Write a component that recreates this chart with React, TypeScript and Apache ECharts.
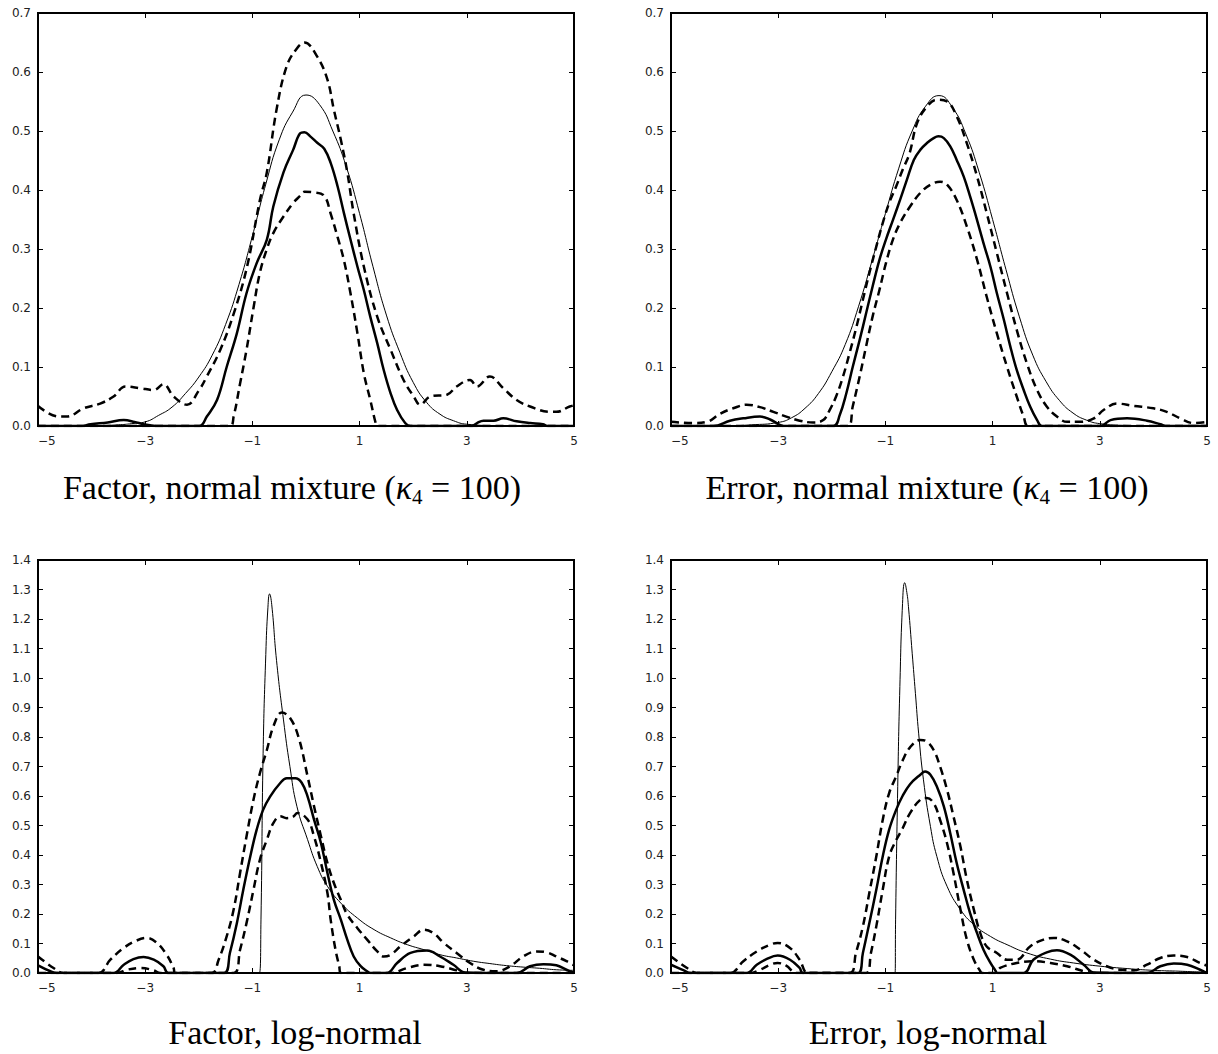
import React, { useEffect, useRef } from 'react';
import * as echarts from 'echarts';

// ---------- tick values ----------
const xTickValues = [-5, -3, -1, 1, 3, 5];
const xInnerTicks = [-3, -1, 1, 3];
const yMaxTop = 0.7;
const yMaxBottom = 1.4;

// ---------- titles ----------
const titleTL = '{r|Factor, normal mixture (}{k|κ}{s|4}{r| = 100)}';
const titleTR = '{r|Error, normal mixture (}{k|κ}{s|4}{r| = 100)}';
const titleBL = '{r|Factor, log-normal}';
const titleBR = '{r|Error, log-normal}';

// ---------- Top-left: Factor, normal mixture ----------
const tlTrue = [[-5,0],[-4,0.0003],[-3.5,0.002],[-3.25,0.004],[-3,0.007],[-2.75,0.018],[-2.5,0.032],[-2.25,0.055],[-2,0.083],[-1.75,0.12],[-1.5,0.172],[-1.25,0.24],[-1,0.322],[-0.75,0.41],[-0.5,0.485],[-0.25,0.532],[0,0.561],[0.25,0.545],[0.5,0.5],[0.75,0.44],[1,0.36],[1.25,0.27],[1.5,0.188],[1.75,0.125],[2,0.074],[2.25,0.04],[2.5,0.02],[2.75,0.009],[3,0.003],[3.5,0.0008],[5,0]];
const tlEst = [[-5,0],[-4.2,0],[-4.02,0.003],[-3.7,0.006],[-3.4,0.01],[-3.2,0.007],[-3.03,0.003],[-2.8,0],[-1.99,0],[-1.85,0.016],[-1.66,0.044],[-1.48,0.1],[-1.29,0.157],[-1.11,0.225],[-0.92,0.276],[-0.73,0.316],[-0.61,0.372],[-0.42,0.43],[-0.24,0.468],[-0.11,0.496],[-0.03,0.498],[0.09,0.49],[0.21,0.48],[0.34,0.47],[0.46,0.446],[0.59,0.406],[0.71,0.36],[0.83,0.316],[0.96,0.27],[1.08,0.23],[1.2,0.185],[1.33,0.14],[1.45,0.095],[1.58,0.055],[1.7,0.027],[1.85,0.005],[1.95,0],[3.1,0],[3.19,0.005],[3.31,0.009],[3.5,0.009],[3.68,0.013],[3.93,0.008],[4.18,0.005],[4.42,0.003],[4.5,0],[5,0]];
const tlUpper = [[-5,0.034],[-4.61,0.016],[-4.46,0.016],[-4.15,0.03],[-3.84,0.038],[-3.59,0.05],[-3.37,0.067],[-3.09,0.064],[-2.84,0.061],[-2.66,0.071],[-2.47,0.05],[-2.22,0.036],[-2.0,0.06],[-1.85,0.084],[-1.6,0.129],[-1.35,0.19],[-1.1,0.27],[-0.86,0.383],[-0.73,0.43],[-0.55,0.536],[-0.36,0.61],[-0.17,0.64],[-0.03,0.65],[0.21,0.626],[0.4,0.587],[0.52,0.536],[0.65,0.485],[0.77,0.43],[0.89,0.36],[1.08,0.27],[1.33,0.185],[1.58,0.129],[1.82,0.078],[2.01,0.05],[2.13,0.036],[2.32,0.05],[2.63,0.053],[2.81,0.067],[3.06,0.078],[3.19,0.067],[3.43,0.084],[3.68,0.064],[3.93,0.044],[4.18,0.033],[4.55,0.024],[4.67,0.024],[4.92,0.033],[5,0.035]];
const tlLower = [[-5,0],[-1.42,0],[-1.35,0.016],[-1.23,0.072],[-1.11,0.129],[-0.98,0.2],[-0.86,0.26],[-0.73,0.3],[-0.61,0.327],[-0.42,0.355],[-0.24,0.378],[-0.11,0.39],[-0.03,0.397],[0.15,0.396],[0.34,0.39],[0.46,0.36],[0.59,0.32],[0.71,0.28],[0.83,0.225],[0.96,0.157],[1.08,0.089],[1.2,0.044],[1.3,0.005],[1.33,0],[5,0]];

// ---------- Top-right: Error, normal mixture ----------
const trTrue = [[-5,0],[-4,0.0003],[-3.5,0.002],[-3,0.006],[-2.75,0.014],[-2.5,0.03],[-2.25,0.055],[-2,0.092],[-1.75,0.138],[-1.5,0.203],[-1.25,0.28],[-1,0.36],[-0.75,0.437],[-0.5,0.5],[-0.25,0.542],[0,0.56],[0.25,0.54],[0.5,0.495],[0.75,0.43],[1,0.35],[1.25,0.265],[1.5,0.185],[1.75,0.12],[2,0.075],[2.25,0.043],[2.5,0.022],[2.75,0.01],[3,0.004],[3.5,0.001],[4,0.0003],[5,0]];
const trEst = [[-5,0],[-4.21,0],[-3.9,0.009],[-3.65,0.013],[-3.34,0.016],[-3.15,0.011],[-2.97,0.002],[-2.9,0],[-1.97,0],[-1.85,0.019],[-1.73,0.055],[-1.61,0.1],[-1.48,0.146],[-1.36,0.191],[-1.24,0.236],[-1.11,0.282],[-0.99,0.316],[-0.86,0.349],[-0.72,0.385],[-0.6,0.417],[-0.47,0.451],[-0.35,0.468],[-0.22,0.48],[-0.1,0.488],[-0.01,0.491],[0.09,0.488],[0.21,0.474],[0.33,0.451],[0.46,0.423],[0.58,0.389],[0.71,0.349],[0.83,0.31],[0.96,0.27],[1.08,0.225],[1.21,0.18],[1.33,0.135],[1.45,0.095],[1.58,0.061],[1.7,0.033],[1.83,0.01],[1.92,0],[3.01,0],[3.2,0.01],[3.51,0.013],[3.88,0.009],[4.13,0.003],[4.25,0],[5,0]];
const trUpper = [[-5,0.007],[-4.58,0.005],[-4.33,0.007],[-4.08,0.021],[-3.84,0.03],[-3.59,0.036],[-3.34,0.032],[-3.09,0.024],[-2.85,0.016],[-2.6,0.009],[-2.35,0.006],[-2.16,0.01],[-2.04,0.027],[-1.92,0.05],[-1.79,0.084],[-1.67,0.123],[-1.54,0.168],[-1.42,0.214],[-1.3,0.259],[-1.17,0.304],[-1.05,0.344],[-0.93,0.378],[-0.8,0.406],[-0.68,0.434],[-0.55,0.462],[-0.41,0.513],[-0.22,0.542],[-0.04,0.553],[0.15,0.55],[0.33,0.525],[0.52,0.479],[0.71,0.423],[0.89,0.361],[1.08,0.293],[1.27,0.225],[1.45,0.163],[1.64,0.106],[1.83,0.061],[2.01,0.033],[2.2,0.016],[2.39,0.007],[2.64,0.007],[2.89,0.013],[3.07,0.027],[3.32,0.038],[3.63,0.034],[4.0,0.03],[4.25,0.024],[4.5,0.013],[4.75,0.005],[5,0.007]];
const trLower = [[-5,0],[-1.7,0],[-1.61,0.033],[-1.48,0.084],[-1.36,0.135],[-1.24,0.185],[-1.11,0.231],[-0.99,0.276],[-0.86,0.316],[-0.72,0.345],[-0.54,0.372],[-0.35,0.395],[-0.16,0.409],[0.02,0.414],[0.15,0.409],[0.33,0.383],[0.52,0.338],[0.71,0.282],[0.89,0.219],[1.08,0.157],[1.27,0.1],[1.45,0.05],[1.58,0.016],[1.67,0],[5,0]];

// ---------- Bottom-left: Factor, log-normal ----------
const blTrue = [[-5,0],[-0.87,0],[-0.84,0.18],[-0.8,0.745],[-0.75,1.08],[-0.71,1.24],[-0.68,1.285],[-0.64,1.25],[-0.55,1.06],[-0.42,0.858],[-0.3,0.7],[-0.17,0.565],[0.03,0.452],[0.21,0.361],[0.4,0.294],[0.65,0.237],[0.96,0.186],[1.27,0.147],[1.58,0.119],[1.89,0.096],[2.2,0.079],[2.5,0.062],[2.81,0.051],[3.12,0.04],[3.43,0.032],[3.74,0.025],[4.05,0.02],[4.36,0.016],[4.67,0.011],[5,0.009]];
const blEst = [[-5,0.026],[-4.77,0.006],[-4.65,0],[-3.59,0],[-3.4,0.028],[-3.22,0.047],[-3.03,0.054],[-2.84,0.045],[-2.66,0.023],[-2.57,0],[-1.53,0],[-1.42,0.068],[-1.29,0.169],[-1.17,0.282],[-1.04,0.395],[-0.92,0.486],[-0.8,0.553],[-0.67,0.598],[-0.48,0.644],[-0.36,0.66],[-0.2,0.66],[-0.08,0.645],[0.03,0.598],[0.15,0.52],[0.28,0.44],[0.4,0.339],[0.52,0.248],[0.65,0.181],[0.77,0.113],[0.89,0.056],[1.02,0.023],[1.14,0.006],[1.2,0],[1.51,0],[1.7,0.034],[1.95,0.068],[2.26,0.076],[2.5,0.056],[2.75,0.028],[2.97,0.002],[3.93,0],[4.18,0.023],[4.43,0.03],[4.67,0.026],[4.86,0.011],[5,0]];
const blUpper = [[-5,0.056],[-4.71,0.017],[-4.52,0],[-3.87,0],[-3.65,0.045],[-3.4,0.085],[-3.16,0.11],[-2.97,0.119],[-2.78,0.102],[-2.6,0.062],[-2.47,0.017],[-2.44,0],[-1.76,0],[-1.63,0.045],[-1.48,0.124],[-1.35,0.215],[-1.23,0.339],[-1.11,0.463],[-0.98,0.587],[-0.86,0.677],[-0.73,0.756],[-0.61,0.835],[-0.45,0.883],[-0.3,0.865],[-0.14,0.8],[0.03,0.666],[0.15,0.565],[0.28,0.463],[0.4,0.373],[0.52,0.305],[0.65,0.248],[0.77,0.198],[0.96,0.152],[1.14,0.113],[1.33,0.073],[1.45,0.056],[1.58,0.062],[1.76,0.09],[2.01,0.124],[2.2,0.147],[2.38,0.135],[2.57,0.102],[2.81,0.068],[3.06,0.034],[3.31,0.011],[3.56,0.006],[3.81,0.023],[4.05,0.056],[4.3,0.073],[4.49,0.07],[4.67,0.056],[4.86,0.04],[5,0.026]];
const blLower = [[-5,0],[-3.53,0],[-3.34,0.011],[-3.09,0.017],[-2.84,0.009],[-2.72,0],[-1.35,0],[-1.23,0.079],[-1.11,0.169],[-0.98,0.282],[-0.86,0.384],[-0.73,0.452],[-0.61,0.508],[-0.48,0.531],[-0.36,0.525],[-0.24,0.53],[-0.16,0.542],[0.03,0.52],[0.15,0.463],[0.28,0.373],[0.4,0.271],[0.46,0.181],[0.55,0.079],[0.62,0.023],[0.65,0],[1.58,0],[1.89,0.017],[2.2,0.028],[2.5,0.023],[2.81,0.009],[3.0,0],[5,0]];

// ---------- Bottom-right: Error, log-normal ----------
const brTrue = [[-5,0],[-0.82,0],[-0.81,0.18],[-0.77,0.632],[-0.73,0.971],[-0.68,1.253],[-0.64,1.323],[-0.6,1.29],[-0.57,1.242],[-0.5,1.084],[-0.44,0.948],[-0.38,0.813],[-0.29,0.655],[-0.16,0.497],[-0.04,0.395],[0.15,0.294],[0.4,0.215],[0.65,0.164],[0.96,0.124],[1.27,0.096],[1.64,0.068],[2.08,0.047],[2.51,0.034],[3.01,0.023],[3.51,0.015],[4.0,0.009],[4.5,0.006],[5,0.002]];
const brEst = [[-5,0.028],[-4.76,0.009],[-4.64,0],[-3.59,0],[-3.4,0.028],[-3.22,0.047],[-3.01,0.059],[-2.78,0.045],[-2.6,0.017],[-2.54,0],[-1.51,0],[-1.42,0.068],[-1.3,0.169],[-1.17,0.282],[-1.05,0.395],[-0.93,0.486],[-0.8,0.553],[-0.68,0.6],[-0.54,0.64],[-0.35,0.672],[-0.26,0.683],[-0.16,0.672],[-0.04,0.632],[0.09,0.565],[0.21,0.474],[0.33,0.373],[0.46,0.282],[0.58,0.203],[0.71,0.135],[0.83,0.079],[0.96,0.034],[1.05,0.009],[1.09,0],[1.58,0],[1.76,0.045],[2.01,0.07],[2.2,0.077],[2.45,0.062],[2.7,0.028],[2.89,0.002],[3.88,0],[4.13,0.023],[4.38,0.032],[4.63,0.028],[4.87,0.011],[5,0]];
const brUpper = [[-5,0.056],[-4.7,0.017],[-4.52,0],[-3.9,0],[-3.65,0.04],[-3.4,0.073],[-3.15,0.096],[-3.01,0.102],[-2.78,0.085],[-2.6,0.045],[-2.44,0],[-1.67,0],[-1.55,0.068],[-1.42,0.158],[-1.3,0.271],[-1.17,0.395],[-1.05,0.519],[-0.93,0.61],[-0.8,0.666],[-0.68,0.72],[-0.54,0.765],[-0.35,0.79],[-0.23,0.785],[-0.1,0.756],[0.02,0.7],[0.15,0.621],[0.27,0.531],[0.4,0.429],[0.52,0.316],[0.65,0.215],[0.77,0.135],[0.89,0.09],[1.08,0.068],[1.27,0.045],[1.45,0.045],[1.7,0.09],[1.95,0.113],[2.14,0.119],[2.39,0.107],[2.64,0.079],[2.89,0.045],[3.13,0.023],[3.38,0.011],[3.63,0.009],[3.88,0.028],[4.13,0.051],[4.38,0.059],[4.63,0.054],[4.87,0.034],[5,0.025]];
const brLower = [[-5,0],[-3.53,0],[-3.34,0.011],[-3.15,0.028],[-3.01,0.034],[-2.85,0.025],[-2.66,0],[-1.36,0],[-1.27,0.068],[-1.17,0.158],[-1.05,0.282],[-0.93,0.395],[-0.8,0.45],[-0.68,0.49],[-0.54,0.542],[-0.35,0.587],[-0.23,0.593],[-0.1,0.576],[0.02,0.519],[0.15,0.44],[0.27,0.339],[0.4,0.215],[0.52,0.113],[0.65,0.045],[0.77,0.006],[0.8,0],[1.05,0],[1.14,0.017],[1.45,0.034],[1.76,0.04],[2.08,0.034],[2.39,0.023],[2.7,0.006],[2.89,0],[5,0]];

const SERIF = 'Liberation Serif';
const SANS = 'DejaVu Sans';

const fmtX = (v: number) => (v < 0 ? '\u2212' + Math.abs(v) : String(v));

function buildOption() {
  const panels = [
    { left: 38, top: 13, yMax: yMaxTop, title: titleTL, tx: 292, ty: 487, data: [tlTrue, tlEst, tlUpper, tlLower] },
    { left: 671, top: 13, yMax: yMaxTop, title: titleTR, tx: 927, ty: 487, data: [trTrue, trEst, trUpper, trLower] },
    { left: 38, top: 560, yMax: yMaxBottom, title: titleBL, tx: 295, ty: 1032, data: [blTrue, blEst, blUpper, blLower] },
    { left: 671, top: 560, yMax: yMaxBottom, title: titleBR, tx: 928, ty: 1032, data: [brTrue, brEst, brUpper, brLower] },
  ];
  const grid: any[] = [];
  const xAxis: any[] = [];
  const yAxis: any[] = [];
  const series: any[] = [];
  const graphic: any[] = [];
  const tickStyle = { inside: true, length: 5, lineStyle: { color: '#000', width: 1 } };
  const hiddenLine = { show: false, onZero: false };
  panels.forEach((p, i) => {
    grid.push({ left: p.left, top: p.top, width: 536, height: 413, show: true, borderColor: '#000', borderWidth: 2, backgroundColor: 'transparent', containLabel: false });
    xAxis.push({
      gridIndex: i, type: 'value', min: -5, max: 5, position: 'bottom',
      axisLine: hiddenLine, splitLine: { show: false },
      axisTick: { ...tickStyle, customValues: xTickValues },
      axisLabel: { customValues: xTickValues, formatter: fmtX, color: '#222', fontFamily: SANS, fontSize: 12, margin: 9, alignMinLabel: 'left' },
    });
    xAxis.push({
      gridIndex: i, type: 'value', min: -5, max: 5, position: 'top',
      axisLine: hiddenLine, splitLine: { show: false },
      axisTick: { ...tickStyle, customValues: xInnerTicks },
      axisLabel: { show: false },
    });
    yAxis.push({
      gridIndex: i, type: 'value', min: 0, max: p.yMax, interval: 0.1, position: 'left',
      axisLine: hiddenLine, splitLine: { show: false },
      axisTick: { ...tickStyle },
      axisLabel: { formatter: (v: number) => v.toFixed(1), color: '#222', fontFamily: SANS, fontSize: 12, margin: 7 },
    });
    yAxis.push({
      gridIndex: i, type: 'value', min: 0, max: p.yMax, interval: 0.1, position: 'right',
      axisLine: hiddenLine, splitLine: { show: false },
      axisTick: { ...tickStyle },
      axisLabel: { show: false },
    });
    const styles = [
      { width: 1, type: 'solid', smooth: 0.5 },
      { width: 2.5, type: 'solid', smooth: 0.4 },
      { width: 2.5, type: [8, 5], smooth: 0.4 },
      { width: 2.5, type: [8, 5], smooth: 0.4 },
    ];
    p.data.forEach((d, k) => {
      series.push({
        type: 'line', xAxisIndex: i * 2, yAxisIndex: i * 2, data: d,
        showSymbol: false, symbol: 'none', smooth: styles[k].smooth,
        lineStyle: { color: '#000', width: styles[k].width, type: styles[k].type, cap: 'butt', join: 'round' },
        silent: true, clip: true, z: 3,
      });
    });
    graphic.push({
      type: 'text', x: p.tx, y: p.ty, silent: true,
      style: {
        text: p.title, align: 'center', verticalAlign: 'middle', fill: '#000',
        fontFamily: SERIF, fontSize: 34,
        rich: {
          r: { fontFamily: SERIF, fontSize: 34, lineHeight: 40, fill: '#000' },
          k: { fontFamily: SERIF, fontSize: 34, fontStyle: 'italic', lineHeight: 40, fill: '#000' },
          s: { fontFamily: SERIF, fontSize: 21, lineHeight: 24, verticalAlign: 'bottom', fill: '#000' },
        },
      },
    });
  });
  return { animation: false, backgroundColor: '#fff', grid, xAxis, yAxis, series, graphic };
}

export default function App() {
  const ref = useRef<HTMLDivElement>(null);
  useEffect(() => {
    if (!ref.current) return;
    const chart = echarts.init(ref.current, null, { renderer: 'svg' });
    chart.setOption(buildOption() as any);
    return () => chart.dispose();
  }, []);
  return <div ref={ref} style={{ position: 'absolute', left: 0, top: 0, width: 1218, height: 1054, background: '#fff' }} />;
}
